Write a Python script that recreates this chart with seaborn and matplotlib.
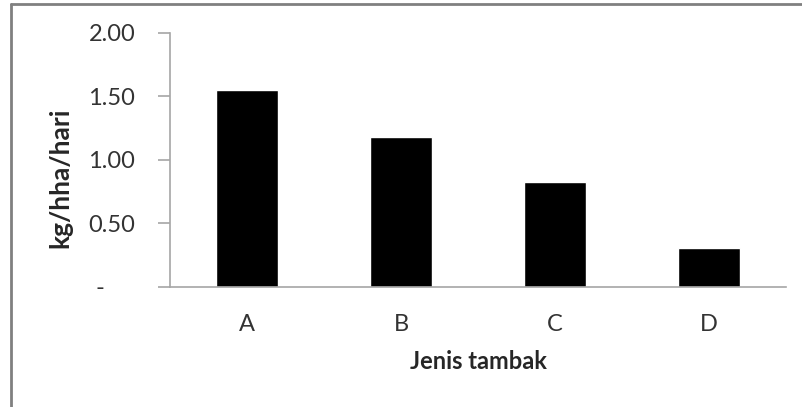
import seaborn as sns
import matplotlib.pyplot as plt
from matplotlib.lines import Line2D
import pandas as pd

jenis = ["A", "B", "C", "D"]
nilai = [1.55, 1.18, 0.83, 0.31]
yticks = [0, 0.5, 1.0, 1.5, 2.0]
ytick_labels = ["-     ", "0.50", "1.00", "1.50", "2.00"]

df = pd.DataFrame({"Jenis tambak": jenis, "kg/hha/hari": nilai})

sns.set_style("white")
plt.rcParams["font.family"] = ["Lato", "DejaVu Sans"]

fig = plt.figure(figsize=(8.02, 4.07), dpi=100)
ax = fig.add_axes([0.212, 0.295, 0.768, 0.624])

sns.barplot(data=df, x="Jenis tambak", y="kg/hha/hari", color="black",
            width=0.4, saturation=1, ax=ax)

ax.set_ylim(0, 2.0)
ax.set_yticks(yticks)
ax.set_yticklabels(ytick_labels)
ax.set_xlim(-0.5, 3.5)

grey = "#a6a6a6"
for s in ["top", "right"]:
    ax.spines[s].set_visible(False)
for s in ["left", "bottom"]:
    ax.spines[s].set_color(grey)
    ax.spines[s].set_linewidth(1.2)

ax.tick_params(axis="y", which="both", left=True, length=9, width=1.2,
               color=grey, labelsize=17, labelcolor="#333333", pad=16)
ax.tick_params(axis="x", bottom=False, labelsize=17, labelcolor="#333333", pad=16)

ax.set_xlabel("Jenis tambak", fontsize=17, fontweight="bold", labelpad=11)
ax.set_ylabel("kg/hha/hari", fontsize=19, fontweight="bold")
ax.yaxis.set_label_coords(-0.158, 0.43)

# outer frame (top and left edges visible in the crop)
fig.add_artist(Line2D([11 / 802, 11 / 802], [0, 1 - 4 / 407],
                      transform=fig.transFigure, color="#808080", lw=2))
fig.add_artist(Line2D([11 / 802, 1], [1 - 4 / 407, 1 - 4 / 407],
                      transform=fig.transFigure, color="#808080", lw=2))

fig.savefig("out.png", dpi=100)
